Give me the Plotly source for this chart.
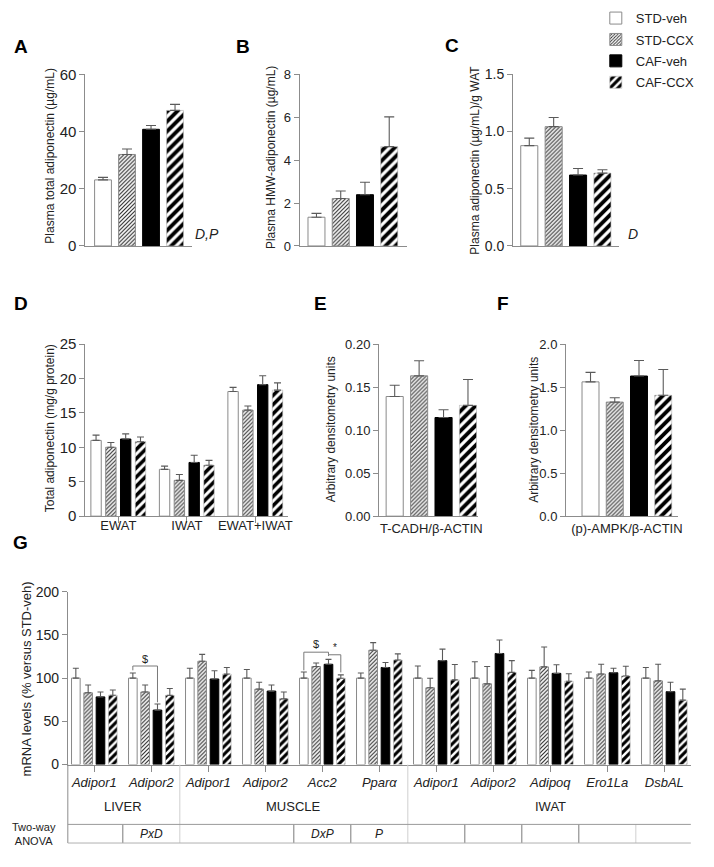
import plotly.graph_objects as go

W, H = 714, 867
FONT = "Arial, 'Liberation Sans', Helvetica, sans-serif"
AX = "#8c8c8c"
TXT = "#222222"

groups = ["STD-veh", "STD-CCX", "CAF-veh", "CAF-CCX"]

# ---- Panel A: plasma total adiponectin (ug/mL)
a_mean = [23.1, 32.0, 40.8, 47.4]
a_sem = [0.9, 1.9, 1.3, 2.1]
# ---- Panel B: plasma HMW-adiponectin (ug/mL)
b_mean = [1.34, 2.21, 2.39, 4.63]
b_sem = [0.18, 0.35, 0.58, 1.39]
# ---- Panel C: plasma adiponectin per g WAT
c_mean = [0.877, 1.043, 0.620, 0.637]
c_sem = [0.066, 0.080, 0.057, 0.029]
# ---- Panel D: total adiponectin (mg/g protein)
d_cats = ["EWAT", "IWAT", "EWAT+IWAT"]
d_mean = [
    [11.0, 6.8, 18.1],
    [10.0, 5.2, 15.4],
    [11.2, 7.8, 19.1],
    [10.8, 7.4, 18.3],
]
d_sem = [
    [0.76, 0.46, 0.6],
    [0.7, 0.85, 0.6],
    [0.75, 1.04, 1.3],
    [0.7, 0.7, 1.05],
]
# ---- Panel E: T-CADH / beta-actin
e_cat = ["T-CADH/β-ACTIN"]
e_mean = [0.139, 0.163, 0.1146, 0.1287]
e_sem = [0.013, 0.0175, 0.009, 0.030]
# ---- Panel F: (p)-AMPK / beta-actin
f_cat = ["(p)-AMPK/β-ACTIN"]
f_mean = [1.56, 1.325, 1.628, 1.404]
f_sem = [0.11, 0.05, 0.18, 0.30]
# ---- Panel G: mRNA levels (% versus STD-veh)
g_genes = ["Adipor1", "Adipor2", "Adipor1", "Adipor2", "Acc2", "Pparα",
           "Adipor1", "Adipor2", "Adipoq", "Ero1La", "DsbAL"]
g_tissue = ["LIVER", "LIVER", "MUSCLE", "MUSCLE", "MUSCLE", "MUSCLE",
            "IWAT", "IWAT", "IWAT", "IWAT", "IWAT"]
g_anova = ["", "PxD", "", "", "DxP", "P", "", "", "", "", ""]
g_mean = [
    [100, 100, 100, 100, 100, 100, 100, 100, 100, 100, 100],
    [83, 84, 119.5, 87.3, 113.4, 132.3, 88.8, 93.4, 113, 104.7, 96.8],
    [78.3, 63, 99, 85, 116, 112.3, 120.2, 128.5, 105.5, 106.2, 84.3],
    [80.2, 80, 104.7, 76, 99.8, 121, 98, 106.6, 96.4, 102.5, 74.5],
]
g_sem = [
    [11.5, 6, 11.5, 10, 7, 6, 14, 19, 9, 7, 12.3],
    [9, 8, 8, 8, 4, 8.7, 11, 20, 23, 11.3, 19.2],
    [5.7, 7, 9.5, 7, 5.7, 5.7, 13.3, 15.5, 10, 5.3, 11],
    [6, 8, 7.6, 8, 4, 7, 17.7, 13.6, 8.7, 11.3, 12.8],
]
# significance brackets in G: (group, bar from, bar to, bracket y, left leg end, right leg end, symbol, label y)
g_sig = [
    (1, 0, 2, 114, 109, 72, "$", 122),
    (4, 0, 2, 130, 109, 127, "$", 139),
    (4, 2, 3, 127, 125.5, 106.6, "*", 135),
]

BARGAP = 0.135
SLOT = (1 - BARGAP) / 4


def px(x):
    return x / W


def py(y):
    return 1 - y / H


def marker_for(k, stripe):
    line_gray = dict(color="#8a8a8a", width=1)
    if k == 0:
        return dict(color="white", line=line_gray)
    if k == 1:
        return dict(color="white", line=line_gray,
                    pattern=dict(shape="/", size=2.8, solidity=0.42, fgopacity=1,
                                 fgcolor="#2e2e2e", bgcolor="white", fillmode="replace"))
    if k == 2:
        return dict(color="black", line=dict(color="black", width=1))
    return dict(color="white", line=dict(color="#b0b0b0", width=0.6),
                pattern=dict(shape="/", size=stripe, solidity=0.55, fgopacity=1,
                             fgcolor="black", bgcolor="white", fillmode="replace"))


fig = go.Figure()

panels = [
    dict(n=1, cats=["A"], means=[[v] for v in a_mean], sems=[[v] for v in a_sem],
         xd=(86, 193), yd=(66.7, 241.7), xr=[-0.483, 0.474], yr=[0, 60], dt=20,
         fmt="", tfs=15, xl=False, xt="", cap=5, stripe=7, so=0),
    dict(n=2, cats=["B"], means=[[v] for v in b_mean], sems=[[v] for v in b_sem],
         xd=(301.7, 410), yd=(66.7, 241.7), xr=[-0.475, 0.484], yr=[0, 8], dt=2,
         fmt="", tfs=13, xl=False, xt="", cap=5, stripe=7, so=0),
    dict(n=3, cats=["C"], means=[[v] for v in c_mean], sems=[[v] for v in c_sem],
         xd=(516.7, 623), yd=(66.7, 241.7), xr=[-0.468, 0.468], yr=[0, 1.5], dt=0.5,
         fmt=".1f", tfs=14, xl=False, xt="", cap=5, stripe=7, so=0),
    dict(n=4, cats=d_cats, means=d_mean, sems=d_sem,
         xd=(86, 290), yd=(341.7, 517.3), xr=[-0.48, 2.477], yr=[0, 25], dt=5,
         fmt="", tfs=15, xl=True, xt="outside", cap=3.5, stripe=6.5, so=-9),
    dict(n=5, cats=e_cat, means=[[v] for v in e_mean], sems=[[v] for v in e_sem],
         xd=(381.7, 481.7), yd=(341.7, 517.3), xr=[-0.463, 0.416], yr=[0, 0.2], dt=0.05,
         fmt=".2f", tfs=13, xl=True, xt="", cap=5, stripe=7, so=0),
    dict(n=6, cats=f_cat, means=[[v] for v in f_mean], sems=[[v] for v in f_sem],
         xd=(570, 683), yd=(341.7, 517.3), xr=[-0.543, 0.458], yr=[0, 2.0], dt=0.5,
         fmt=".1f", tfs=13, xl=True, xt="", cap=5, stripe=7, so=0),
]

g_ids = [f"{t} {g} {i}" for i, (t, g) in enumerate(zip(g_tissue, g_genes))]
panels.append(dict(n=7, cats=g_ids, means=g_mean, sems=g_sem,
                   xd=(68.3, 695.7), yd=(594.3, 770.7), xr=[-0.465, 10.465], yr=[0, 200], dt=50,
                   fmt="", tfs=14, xl=True, xt="outside", cap=3, stripe=5.5, so=0))

for p in panels:
    n = p["n"]
    xa = "x" if n == 1 else f"x{n}"
    ya = "y" if n == 1 else f"y{n}"
    for k, gname in enumerate(groups):
        fig.add_trace(go.Bar(
            x=p["cats"], y=p["means"][k], name=gname,
            xaxis=xa, yaxis=ya,
            marker=marker_for(k, p["stripe"]),
            error_y=dict(type="data", symmetric=False, array=p["sems"][k],
                         arrayminus=[0] * len(p["sems"][k]),
                         color="#5a5a5a", thickness=1.1, width=p["cap"]),
            showlegend=(n == 1), legendgroup=gname,
        ))
    xkey = "xaxis" if n == 1 else f"xaxis{n}"
    ykey = "yaxis" if n == 1 else f"yaxis{n}"
    xax = dict(domain=[px(p["xd"][0]), px(p["xd"][1])], anchor=ya, range=p["xr"],
               type="category", showline=True, linecolor=AX, linewidth=1,
               showgrid=False, zeroline=False, ticks=p["xt"], ticklen=6, tickcolor=AX,
               showticklabels=p["xl"], tickfont=dict(size=13, color=TXT))
    if p["so"]:
        xax["ticklabelstandoff"] = p["so"]
    if n == 7:
        xax.update(tickmode="array", tickvals=g_ids,
                   ticktext=[f"<i>{g}</i>" for g in g_genes])
    yax = dict(domain=[py(p["yd"][1]), py(p["yd"][0])], anchor=xa, range=p["yr"],
               dtick=p["dt"], tick0=0, tickformat=p["fmt"], showline=True,
               linecolor=AX, linewidth=1, showgrid=False, zeroline=False,
               ticks="outside", ticklen=5, tickcolor=AX,
               tickfont=dict(size=p["tfs"], color=TXT))
    fig.update_layout({xkey: xax, ykey: yax})

ann = []
# panel letters
for lab, x, y in [("A", 21, 38), ("B", 245, 38), ("C", 455, 37), ("D", 21, 300),
                  ("E", 323, 300), ("F", 507, 300), ("G", 21, 544)]:
    ann.append(dict(text=f"<b>{lab}</b>", x=px(x), y=py(y), xref="paper", yref="paper",
                    showarrow=False, font=dict(size=19, color="black"),
                    xanchor="center", yanchor="middle"))
# y titles
for t, x, y, fs in [("Plasma total adiponectin (µg/mL)", 50, 150, 12),
                    ("Plasma HMW-adiponectin (µg/mL)", 273, 152, 12),
                    ("Plasma adiponectin (µg/mL)/g WAT", 478, 154, 12),
                    ("Total adiponectin (mg/g protein)", 50, 428, 12),
                    ("Arbitrary densitometry units", 333, 429, 12),
                    ("Arbitrary densitometry units", 537, 429, 12),
                    ("mRNA levels (% versus STD-veh)", 27, 683, 13)]:
    ann.append(dict(text=t, x=px(x), y=py(y), xref="paper", yref="paper", textangle=-90,
                    showarrow=False, font=dict(size=fs, color=TXT),
                    xanchor="center", yanchor="middle"))
# two-way ANOVA effect notes
ann.append(dict(text="<i>D,P</i>", x=px(194), y=py(230), xref="paper", yref="paper",
                showarrow=False, xanchor="left", yanchor="middle",
                font=dict(size=14, color=TXT)))
ann.append(dict(text="<i>D</i>", x=px(630), y=py(230), xref="paper", yref="paper",
                showarrow=False, xanchor="left", yanchor="middle",
                font=dict(size=14, color=TXT)))

shapes = []
TOP, MID, BOT = 770.7, 831.7, 850.7
# table in panel G
tissues_order = []
for i, t in enumerate(g_tissue):
    if not tissues_order or tissues_order[-1][0] != t:
        tissues_order.append([t, i, i])
    else:
        tissues_order[-1][2] = i
for t, i0, i1 in tissues_order:
    ann.append(dict(text=t, x=(i0 + i1) / 2, y=py(813), xref="x7", yref="paper",
                    showarrow=False, font=dict(size=13, color=TXT),
                    xanchor="center", yanchor="middle"))
    if i1 < len(g_tissue) - 1:
        shapes.append(dict(type="line", xref="x7", yref="paper", x0=i1 + 0.5, x1=i1 + 0.5,
                           y0=py(TOP), y1=py(BOT), line=dict(color="#cfcfcf", width=1)))
for i, a in enumerate(g_anova):
    if a:
        ann.append(dict(text=f"<i>{a}</i>", x=i, y=py(842), xref="x7", yref="paper",
                        showarrow=False, font=dict(size=12, color=TXT),
                        xanchor="center", yanchor="middle"))
    if 0 < i and g_tissue[i] == g_tissue[i - 1] and i != 3:
        col = "#d0d0d0" if i == 10 else "#7a7a7a"
        shapes.append(dict(type="line", xref="x7", yref="paper", x0=i - 0.5, x1=i - 0.5,
                           y0=py(MID), y1=py(BOT), line=dict(color=col, width=1)))
shapes.append(dict(type="line", xref="paper", yref="paper", x0=px(68.3), x1=px(68.3),
                   y0=py(TOP), y1=py(BOT), line=dict(color=AX, width=1)))
shapes.append(dict(type="line", xref="paper", yref="paper", x0=px(68.3), x1=px(695.7),
                   y0=py(MID), y1=py(MID), line=dict(color="#9a9a9a", width=1)))
shapes.append(dict(type="line", xref="paper", yref="paper", x0=px(68.3), x1=px(695.7),
                   y0=py(BOT), y1=py(BOT), line=dict(color="#b0b0b0", width=1)))
ann.append(dict(text="Two-way<br>ANOVA", x=px(34), y=py(842), xref="paper", yref="paper",
                showarrow=False, font=dict(size=11, color=TXT),
                xanchor="center", yanchor="middle"))

# significance brackets
for gi, b0, b1, yb, yl, yr_, sym, ly in g_sig:
    x0 = gi + (b0 - 1.5) * SLOT
    x1 = gi + (b1 - 1.5) * SLOT
    ln = dict(color="#7a7a7a", width=1)
    shapes.append(dict(type="line", xref="x7", yref="y7", x0=x0, x1=x0, y0=yl, y1=yb, line=ln))
    shapes.append(dict(type="line", xref="x7", yref="y7", x0=x0, x1=x1, y0=yb, y1=yb, line=ln))
    shapes.append(dict(type="line", xref="x7", yref="y7", x0=x1, x1=x1, y0=yb, y1=yr_, line=ln))
    ann.append(dict(text=sym, x=(x0 + x1) / 2, y=ly, xref="x7", yref="y7", showarrow=False,
                    font=dict(size=11 if sym == "$" else 10, color="#222222"),
                    xanchor="center", yanchor="middle"))

fig.update_layout(
    width=W, height=H, autosize=False,
    margin=dict(l=0, r=0, t=0, b=0),
    paper_bgcolor="white", plot_bgcolor="white",
    font=dict(family=FONT, color=TXT),
    barmode="group", bargap=BARGAP, bargroupgap=0.3,
    annotations=ann, shapes=shapes,
    legend=dict(x=px(600), y=1 + 6 / H, xanchor="left", yanchor="top",
                font=dict(size=13, color=TXT), bgcolor="rgba(0,0,0,0)",
                tracegroupgap=1.5, itemwidth=30),
)

fig.write_html("out.html", config={"displayModeBar": False},
               post_script="document.body.style.margin='0';document.body.style.overflow='hidden';")
